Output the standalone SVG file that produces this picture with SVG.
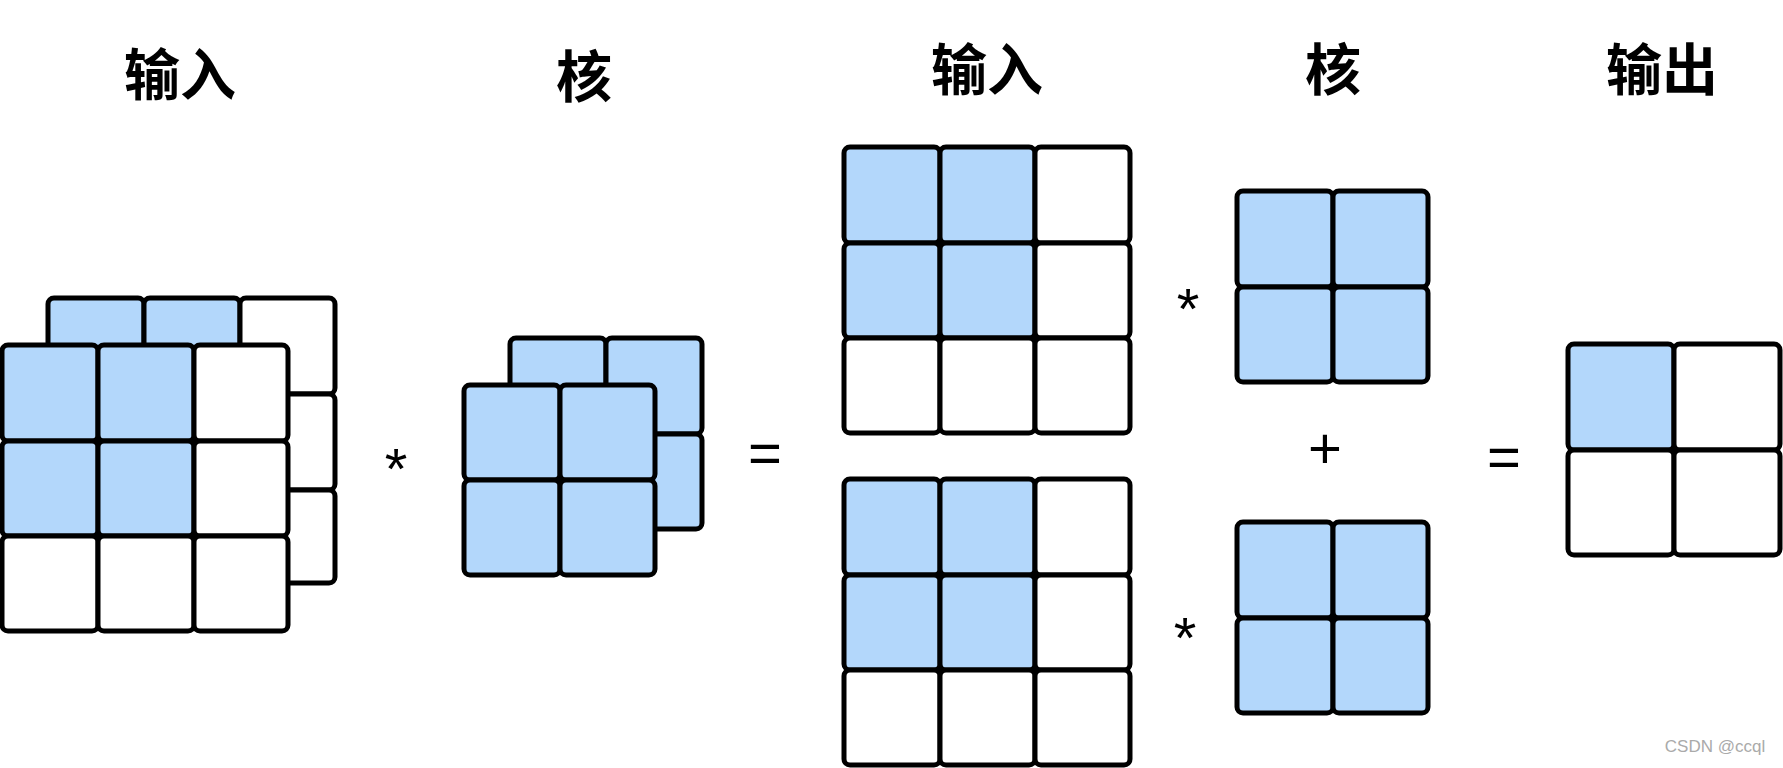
<svg xmlns="http://www.w3.org/2000/svg" width="1783" height="768" viewBox="0 0 1783 768">
<style>
.b{fill:#b3d7fb;stroke:#000;stroke-width:5;stroke-linejoin:round}
.w{fill:#fff;stroke:#000;stroke-width:5;stroke-linejoin:round}
.t{font-family:"Noto Sans CJK SC","Noto Sans",sans-serif;font-size:56px;font-weight:bold;text-anchor:middle;dominant-baseline:central}
.o{font-family:"Liberation Sans",sans-serif;font-size:58px;text-anchor:middle;dominant-baseline:central}
</style>
<rect width="1783" height="768" fill="#fff"/>
<g id="labels">
<text class="t" x="180" y="70">输入</text>
<text class="t" x="584" y="72">核</text>
<text class="t" x="987" y="65">输入</text>
<text class="t" x="1333" y="65">核</text>
<text class="t" x="1662" y="65">输出</text>
</g>
<g id="input3d">
<rect class="b" x="48" y="298" width="96" height="96" rx="6"/><rect class="b" x="144" y="298" width="96" height="96" rx="6"/><rect class="w" x="240" y="298" width="95" height="96" rx="6"/>
<rect class="w" x="240" y="394" width="95" height="96" rx="6"/><rect class="w" x="240" y="490" width="95" height="93" rx="6"/>
<rect class="b" x="2" y="345" width="96" height="96" rx="6"/><rect class="b" x="98" y="345" width="96" height="96" rx="6"/><rect class="w" x="194" y="345" width="94" height="96" rx="6"/>
<rect class="b" x="2" y="441" width="96" height="95" rx="6"/><rect class="b" x="98" y="441" width="96" height="95" rx="6"/><rect class="w" x="194" y="441" width="94" height="95" rx="6"/>
<rect class="w" x="2" y="536" width="96" height="95" rx="6"/><rect class="w" x="98" y="536" width="96" height="95" rx="6"/><rect class="w" x="194" y="536" width="94" height="95" rx="6"/>
</g>
<g id="kernel3d">
<rect class="b" x="510" y="338" width="96" height="96" rx="6"/><rect class="b" x="606" y="338" width="96" height="96" rx="6"/>
<rect class="b" x="606" y="434" width="96" height="95" rx="6"/>
<rect class="b" x="464" y="385" width="96" height="95" rx="6"/><rect class="b" x="560" y="385" width="95" height="95" rx="6"/>
<rect class="b" x="464" y="480" width="96" height="95" rx="6"/><rect class="b" x="560" y="480" width="95" height="95" rx="6"/>
</g>
<g id="inputTop">
<rect class="b" x="844" y="147" width="96" height="96" rx="6"/><rect class="b" x="940" y="147" width="95" height="96" rx="6"/><rect class="w" x="1035" y="147" width="95" height="96" rx="6"/>
<rect class="b" x="844" y="243" width="96" height="95" rx="6"/><rect class="b" x="940" y="243" width="95" height="95" rx="6"/><rect class="w" x="1035" y="243" width="95" height="95" rx="6"/>
<rect class="w" x="844" y="338" width="96" height="95" rx="6"/><rect class="w" x="940" y="338" width="95" height="95" rx="6"/><rect class="w" x="1035" y="338" width="95" height="95" rx="6"/>
</g>
<g id="inputBottom">
<rect class="b" x="844" y="479" width="96" height="96" rx="6"/><rect class="b" x="940" y="479" width="95" height="96" rx="6"/><rect class="w" x="1035" y="479" width="95" height="96" rx="6"/>
<rect class="b" x="844" y="575" width="96" height="95" rx="6"/><rect class="b" x="940" y="575" width="95" height="95" rx="6"/><rect class="w" x="1035" y="575" width="95" height="95" rx="6"/>
<rect class="w" x="844" y="670" width="96" height="95" rx="6"/><rect class="w" x="940" y="670" width="95" height="95" rx="6"/><rect class="w" x="1035" y="670" width="95" height="95" rx="6"/>
</g>
<g id="kernelTop">
<rect class="b" x="1237" y="191" width="96" height="96" rx="6"/><rect class="b" x="1333" y="191" width="95" height="96" rx="6"/>
<rect class="b" x="1237" y="287" width="96" height="95" rx="6"/><rect class="b" x="1333" y="287" width="95" height="95" rx="6"/>
</g>
<g id="kernelBottom">
<rect class="b" x="1237" y="522" width="96" height="96" rx="6"/><rect class="b" x="1333" y="522" width="95" height="96" rx="6"/>
<rect class="b" x="1237" y="618" width="96" height="95" rx="6"/><rect class="b" x="1333" y="618" width="95" height="95" rx="6"/>
</g>
<g id="output">
<rect class="b" x="1568" y="344" width="106" height="106" rx="6"/><rect class="w" x="1674" y="344" width="106" height="106" rx="6"/>
<rect class="w" x="1568" y="450" width="106" height="105" rx="6"/><rect class="w" x="1674" y="450" width="106" height="105" rx="6"/>
</g>
<g id="operators">
<text class="o" x="396" y="468">*</text>
<text class="o" x="765" y="452">=</text>
<text class="o" x="1188" y="308">*</text>
<text class="o" x="1185" y="637">*</text>
<text class="o" x="1325" y="447">+</text>
<text class="o" x="1504" y="456">=</text>
</g>
<text x="1715" y="752" font-family="Liberation Sans,sans-serif" font-size="17" fill="#aaa" text-anchor="middle">CSDN @ccql</text>
</svg>
